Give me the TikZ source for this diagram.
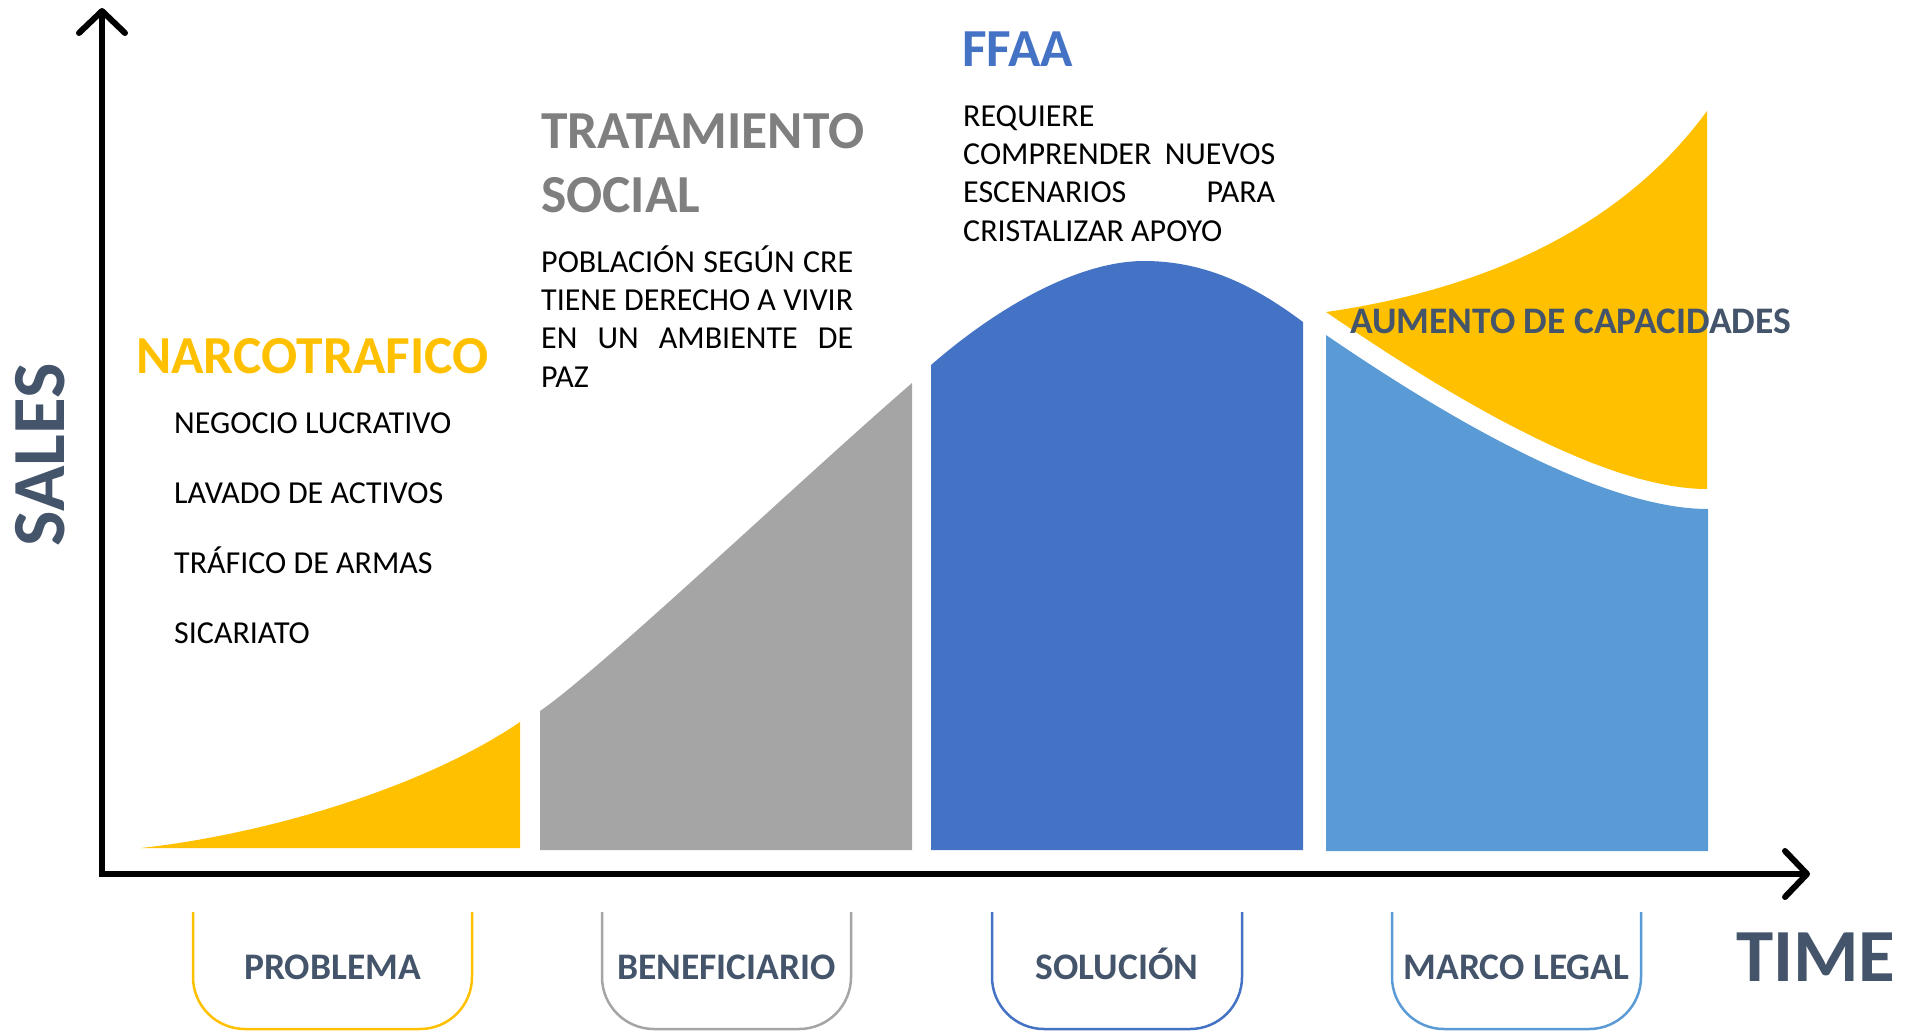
\documentclass[tikz,border=0pt]{standalone}
\usepackage{fontspec}
\setmainfont{Carlito}
\usepackage{xcolor}
\usepackage{tikz}
\usetikzlibrary{positioning,calc,arrows.meta}
\definecolor{narco}{HTML}{FFC000}
\definecolor{titleGray}{HTML}{7F7F7F}
\definecolor{shapeGray}{HTML}{A5A5A5}
\definecolor{darkBlue}{HTML}{4472C4}
\definecolor{lightBlue}{HTML}{5B9BD5}
\definecolor{slate}{HTML}{44546A}
\tikzset{
  axisLine/.style={
    line width=6pt,
    {Straight Barb[length=22pt,width=46pt,round]}-{Straight Barb[length=22pt,width=46pt,round]}
  },
  phaseTitle/.style={
    font=\bfseries\fontsize{53.5}{64}\selectfont,
    inner sep=0pt,
    anchor=base west
  },
  bodyText/.style={
    font=\fontsize{32}{38.4}\selectfont,
    inner sep=0pt,
    anchor=base west
  },
  paraText/.style={
    bodyText,
    text width=312pt,
    align=justify
  },
  axisLabel/.style={
    font=\bfseries\fontsize{75}{90}\selectfont,
    text=slate,
    inner sep=0pt
  },
  tabLabel/.style={
    font=\bfseries\fontsize{37.5}{44}\selectfont,
    text=slate,
    inner sep=0pt,
    anchor=base
  },
  tabFrame/.style={
    line width=2.5pt,
    rounded corners=52pt
  }
}

\begin{document}
\begin{tikzpicture}[x=1pt,y=-1pt]
        \useasboundingbox (0,0) rectangle (1918,1031);
        \coordinate (origin) at (102,874);
        \coordinate (yTip) at (102,8);
        \coordinate (xTip) at (1810,874);

        \fill[narco] (141,848) .. controls (260,835) and (420,790) .. (520,722) -- (520,848) -- cycle;
        \fill[shapeGray] (540,850) -- (540,711) .. controls (600,670) and (800,480) .. (912,383) -- (912,850) -- cycle;
        \fill[darkBlue] (931,850) -- (931,365) .. controls (1000,305) and (1080,261) .. (1144,261)
            .. controls (1210,261) and (1260,290) .. (1303,322) -- (1303,850) -- cycle;
        \fill[lightBlue] (1326,851) -- (1326,335) .. controls (1440,413) and (1600,509) .. (1708,509) -- (1708,851) -- cycle;
        \fill[narco] (1326,312) .. controls (1480,290) and (1620,230) .. (1707,111) -- (1707,489)
            .. controls (1600,489) and (1440,390) .. cycle;

        \draw[axisLine] (yTip) -- (origin) -- (xTip);
        \node[axisLabel, rotate=90, anchor=base] (sales) at (64,455) {SALES};
        \node[axisLabel, anchor=base west] (time) at (1736,981) {TIME};

        \node[phaseTitle, text=narco] (narcoTitle) at (136,373) {NARCOTRAFICO};
        \foreach \txt [count=\i] in {NEGOCIO LUCRATIVO, LAVADO DE ACTIVOS, TRÁFICO DE ARMAS, SICARIATO}
            \node[bodyText] (narcoItem\i) at (174,363+70*\i) {\txt};

        \node[phaseTitle, text=titleGray] (socialTitle) at (541,148) {TRATAMIENTO};
        \node[phaseTitle, text=titleGray] (socialTitleB) at (541,212) {SOCIAL};
        \node[paraText] (socialText) at (541,272)
            {POBLACIÓN SEGÚN CRE\linebreak TIENE DERECHO A VIVIR\linebreak EN UN AMBIENTE DE\linebreak PAZ};

        \node[phaseTitle, text=darkBlue] (ffaaTitle) at (962,66) {FFAA};
        \node[paraText] (ffaaText) at (963,126)
            {REQUIERE\linebreak COMPRENDER NUEVOS\linebreak ESCENARIOS PARA\linebreak CRISTALIZAR APOYO};

        \node[tabLabel, anchor=base west] (capText) at (1350,333) {AUMENTO DE CAPACIDADES};

        \foreach \name/\lft/\rgt/\col [count=\i] in {PROBLEMA/193/472/narco, BENEFICIARIO/602/851/shapeGray,
            SOLUCIÓN/992/1242/darkBlue, MARCO LEGAL/1392/1641/lightBlue} {
            \draw[tabFrame, draw=\col] (\lft,912) -- (\lft,1029) -- (\rgt,1029) -- (\rgt,912);
            \node[tabLabel] (tab\i) at ({(\lft+\rgt)/2},979) {\name};
        }
    \end{tikzpicture}
\end{document}
